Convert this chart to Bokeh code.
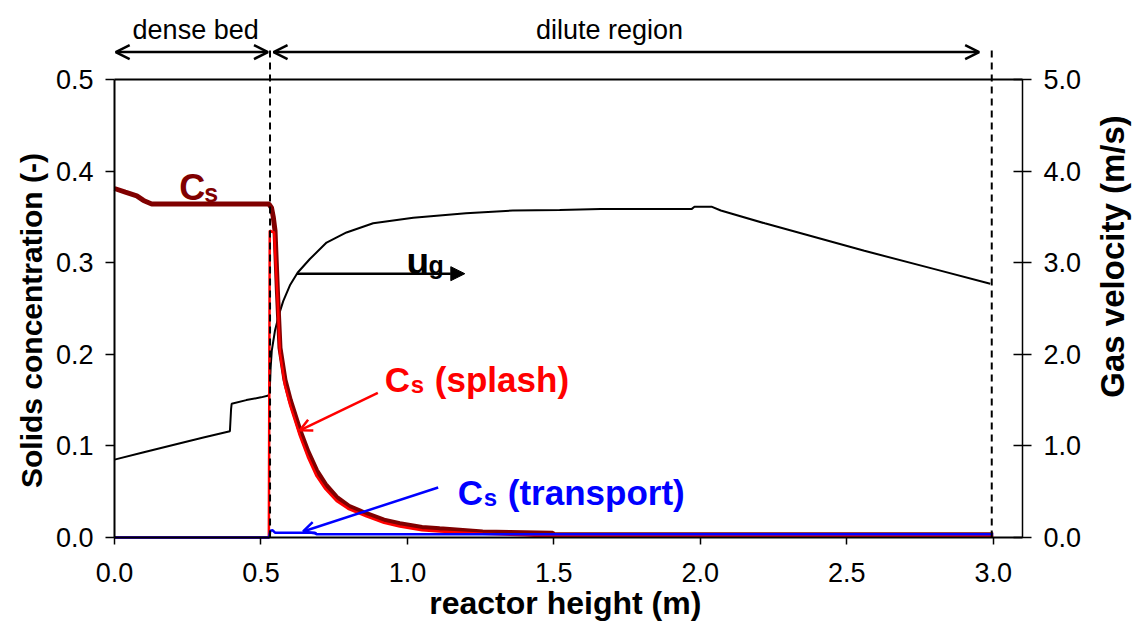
import math
from bokeh.plotting import figure
from bokeh.models import (Range1d, LinearAxis, SingleIntervalTicker, PrintfTickFormatter,
                          Label, Arrow, OpenHead, NormalHead)
from bokeh.embed import file_html
from bokeh.resources import INLINE

# ---------------- data ----------------
# total solids concentration Cs (-)
h_cs = [0.0, 0.037, 0.076, 0.099, 0.127, 0.527, 0.536, 0.542, 0.548, 0.556, 0.565, 0.582,
        0.60, 0.633, 0.66, 0.69, 0.72, 0.758, 0.80, 0.86, 0.92, 0.974, 1.05, 1.11, 1.257,
        1.35, 1.496, 1.50, 3.0]
cs = [0.381, 0.377, 0.373, 0.368, 0.364, 0.364, 0.360, 0.350, 0.335, 0.270, 0.207, 0.172,
      0.150, 0.117, 0.094, 0.073, 0.058, 0.044, 0.034, 0.026, 0.019, 0.015, 0.011, 0.0095,
      0.006, 0.0055, 0.0047, 0.003, 0.003]

# splash solids concentration (-)
h_splash = [0.0, 0.527, 0.530, 0.545, 0.556, 0.565, 0.582, 0.60, 0.633, 0.66, 0.69, 0.72,
            0.758, 0.80, 0.86, 0.92, 0.974, 1.05, 1.11, 1.257, 1.35, 1.40, 1.45, 3.0]
splash = [0.0, 0.0, 0.335, 0.333, 0.265, 0.201, 0.166, 0.144, 0.111, 0.088, 0.067, 0.053,
          0.040, 0.031, 0.023, 0.016, 0.012, 0.008, 0.0065, 0.004, 0.003, 0.0025, 0.0015, 0.0015]

# transport solids concentration (-)
h_trans = [0.0, 0.528, 0.532, 0.540, 0.548, 0.684, 0.690, 3.0]
trans = [0.0, 0.0, 0.0075, 0.0078, 0.0052, 0.0052, 0.0035, 0.0035]

# gas velocity ug (m/s)
h_ug = [0.0, 0.10, 0.20, 0.30, 0.394, 0.398, 0.40, 0.45, 0.50, 0.526, 0.530, 0.533, 0.537,
        0.548, 0.563, 0.576, 0.60, 0.625, 0.667, 0.724, 0.792, 0.883, 1.02, 1.20, 1.36,
        1.52, 1.66, 1.97, 1.98, 2.04, 2.07, 2.22, 2.56, 2.80, 2.99]
ug = [0.85, 0.93, 1.01, 1.09, 1.16, 1.40, 1.46, 1.50, 1.53, 1.55, 1.60, 1.85, 2.04,
      2.26, 2.45, 2.58, 2.76, 2.89, 3.04, 3.22, 3.33, 3.43, 3.49, 3.54, 3.57,
      3.575, 3.585, 3.585, 3.61, 3.61, 3.57, 3.43, 3.13, 2.93, 2.77]

# region boundaries (m)
bed_top = 0.531
reactor_top = 2.995

# axis extents
X_MAX = 3.1
CS_MAX = 0.5
UG_MAX = 5.0

FONT = "Liberation Sans"

# ---------------- layout (pixels) ----------------
W, H = 1133, 627
BOX_L, BOX_R, BOX_T, BOX_B = 114, 1022, 79, 537     # plotted box inside the canvas
px_x = (BOX_R - BOX_L) / X_MAX                       # px per metre
px_y = (BOX_B - BOX_T) / CS_MAX                      # px per unit concentration

# the frame covers the whole canvas; axes are pinned to the box edges
x_lo, x_hi = -BOX_L / px_x, (W - BOX_L) / px_x
y_lo, y_hi = -(H - BOX_B) / px_y, BOX_B / px_y
ug_scale = UG_MAX / CS_MAX

p = figure(width=W, height=H, output_backend="svg", toolbar_location=None,
           x_range=Range1d(x_lo, x_hi), y_range=Range1d(y_lo, y_hi),
           min_border_left=0, min_border_right=0, min_border_top=0, min_border_bottom=0)
p.extra_y_ranges = {"ug": Range1d(y_lo * ug_scale, y_hi * ug_scale)}
p.xgrid.visible = False
p.ygrid.visible = False
p.background_fill_color = "white"
p.border_fill_color = "white"
p.outline_line_color = None

xa = p.xaxis[0]
xa.ticker = SingleIntervalTicker(interval=0.5, num_minor_ticks=0)
xa.formatter = PrintfTickFormatter(format="%.1f")
xa.bounds = (0, X_MAX)
xa.fixed_location = 0

ya = p.yaxis[0]
ya.ticker = SingleIntervalTicker(interval=0.1, num_minor_ticks=0)
ya.formatter = PrintfTickFormatter(format="%.1f")
ya.bounds = (0, CS_MAX)
ya.fixed_location = 0

ra = LinearAxis(y_range_name="ug",
                ticker=SingleIntervalTicker(interval=1.0, num_minor_ticks=0),
                formatter=PrintfTickFormatter(format="%.1f"), bounds=(0, UG_MAX),
                fixed_location=X_MAX)
p.add_layout(ra, "right")

for ax in (xa, ya, ra):
    ax.axis_line_color = "black"
    ax.axis_line_width = 2
    ax.major_tick_line_color = "black"
    ax.major_tick_line_width = 1.5
    ax.minor_tick_line_color = None
    ax.major_label_text_font = FONT
    ax.major_label_text_font_size = "27px"
    ax.major_label_text_color = "black"

xa.major_tick_in = 0
xa.major_tick_out = 7
xa.major_label_standoff = 18

ya.major_tick_in = 0
ya.major_tick_out = 9
ya.major_label_standoff = 12

ra.major_tick_in = 9
ra.major_tick_out = 9
ra.major_label_standoff = 12
ra.axis_line_width = 1.5

# top edge of the plotted box
p.line([0, X_MAX], [CS_MAX, CS_MAX], line_color="black", line_width=2)

# axis titles
title_style = dict(text_font=FONT, text_font_style="bold", text_color="black",
                   text_align="center", text_baseline="middle")
p.add_layout(Label(x=-0.284, y=0.2369, angle=math.pi / 2, text="Solids concentration (-)",
                   text_font_size="30px", **title_style))
p.add_layout(Label(x=3.407, y=0.3068, angle=math.pi / 2, text="Gas velocity (m/s)",
                   text_font_size="33px", **title_style))
p.add_layout(Label(x=1.539, y=-0.072, text="reactor height (m)",
                   text_font_size="32px", **title_style))

# ---------------- series ----------------
p.line(h_ug, ug, y_range_name="ug", line_color="black", line_width=2)
p.line(h_cs, cs, line_color="#800000", line_width=5)
p.line(h_splash, splash, line_color="#FF0000", line_width=2.5)
p.line(h_trans, trans, line_color="#0000FF", line_width=2.5)

# ---------------- region markers ----------------
for xv in (bed_top, reactor_top):
    p.add_layout(Arrow(x_start=xv, y_start=0, x_end=xv, y_end=0.535, start=None, end=None,
                       line_color="black", line_width=2, line_dash="7 5"))

p.add_layout(Arrow(x_start=0.004, y_start=0.53, x_end=0.524, y_end=0.53,
                   start=OpenHead(size=14, line_width=2.5, line_color="black"),
                   end=OpenHead(size=14, line_width=2.5, line_color="black"),
                   line_color="black", line_width=2.5))
p.add_layout(Arrow(x_start=0.543, y_start=0.53, x_end=2.952, y_end=0.53,
                   start=OpenHead(size=14, line_width=2.5, line_color="black"),
                   end=OpenHead(size=14, line_width=2.5, line_color="black"),
                   line_color="black", line_width=2.5))

p.add_layout(Label(x=0.277, y=0.5535, text="dense bed", text_align="center",
                   text_baseline="alphabetic", text_font=FONT, text_font_size="27px",
                   text_color="black"))
p.add_layout(Label(x=1.69, y=0.5535, text="dilute region", text_align="center",
                   text_baseline="alphabetic", text_font=FONT, text_font_size="27px",
                   text_color="black"))

# ---------------- series labels with subscripts ----------------
def sub_label(x, y, main, sub, rest, color, size_main, size_sub, sub_dx, rest_dx, sub_dy):
    common = dict(text_font=FONT, text_font_style="bold", text_color=color,
                  text_baseline="alphabetic", text_align="left")
    p.add_layout(Label(x=x, y=y, text=main, text_font_size=f"{size_main}px", **common))
    p.add_layout(Label(x=x, y=y, x_offset=sub_dx, y_offset=sub_dy, text=sub,
                       text_font_size=f"{size_sub}px", **common))
    if rest:
        p.add_layout(Label(x=x, y=y, x_offset=rest_dx, text=rest,
                           text_font_size=f"{size_main}px", **common))

sub_label(0.221, 0.382, "C", "s", "", "#800000", 36, 25, 25, 0, -5)
sub_label(0.997, 0.3016, "u", "g", "", "black", 37, 25, 22, 0, -4)
sub_label(0.923, 0.1725, "C", "s", "(splash)", "#FF0000", 35, 24, 26, 50, -5)
sub_label(1.172, 0.0491, "C", "s", "(transport)", "#0000FF", 35, 24, 26, 50, -5)

# pointer arrows
p.add_layout(Arrow(x_start=0.623, y_start=0.288, x_end=1.196, y_end=0.288,
                   end=NormalHead(size=14, fill_color="black", line_color="black"),
                   line_color="black", line_width=2.5))
p.add_layout(Arrow(x_start=0.899, y_start=0.158, x_end=0.633, y_end=0.117,
                   end=OpenHead(size=12, line_width=2.5, line_color="#FF0000"),
                   line_color="#FF0000", line_width=2.5))
p.add_layout(Arrow(x_start=1.105, y_start=0.0546, x_end=0.644, y_end=0.0066,
                   end=OpenHead(size=12, line_width=2.5, line_color="#0000FF"),
                   line_color="#0000FF", line_width=2.5))

open("out.html", "w").write(file_html(p, INLINE))
